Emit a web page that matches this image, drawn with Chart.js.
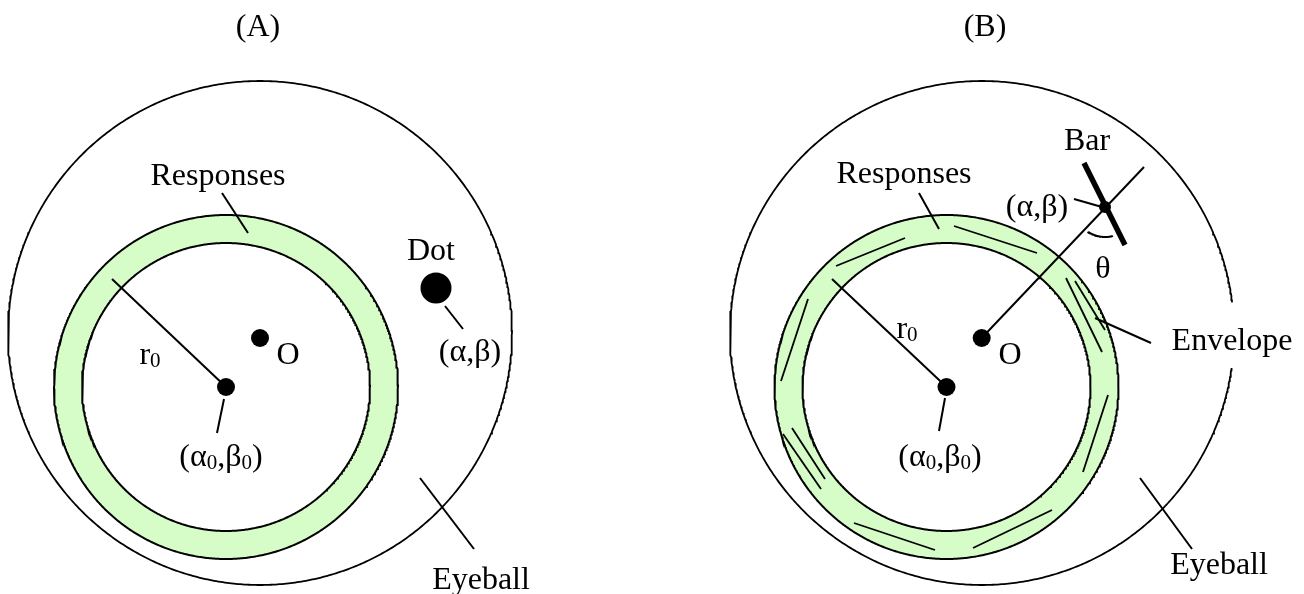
<!DOCTYPE html>
<html>
<head>
<meta charset="utf-8">
<script src="https://cdn.jsdelivr.net/npm/chart.js@4.4.0/dist/chart.umd.min.js"></script>
<style>
  html, body { margin: 0; padding: 0; background: #ffffff; }
  #wrap { width: 1304px; height: 594px; }
</style>
</head>
<body>
<div id="wrap"><canvas id="c" width="1304" height="594"></canvas></div>
<script>
// ---- diagram geometry (in diagram units; the y axis runs downward) ----

// eyeball outlines for panels A and B
const eyeballX = [260, 982];
const eyeballY = [333, 333];
const eyeballR = [252, 252];
// panel B outline is open on the right where the Envelope label sits (degrees, counter-clockwise from +x)
const eyeballArcFrom = [0, 7];
const eyeballArcTo = [360, 352];

// response rings: centre (alpha0, beta0), inner and outer radius
const ringX = [226, 946.5];
const ringY = [387, 387];
const ringInner = [144, 144];
const ringOuter = [172, 172];

// fixation point O and the stimulus positions
const fixationX = [260, 981.7];
const fixationY = [338, 338];
const dotX = [436];
const dotY = [288];
const barCentreX = [1105];
const barCentreY = [207];

// oriented bar in panel B (end points)
const barEnds = [[1084, 163], [1125, 245]];
// ray from O through the bar centre
const rayEnds = [[981.7, 338], [1144, 167]];
// angle theta between the ray and the bar (degrees, screen orientation)
const thetaArc = { r: 30, from: 75, to: 124 };

// radius r0 drawn in each ring (outer end)
const radiusEndX = [112, 832];
const radiusEndY = [279, 279];

// short oriented responses along the envelope in panel B
const envelopeBars = [
  [836, 266, 905, 238],
  [954, 226, 1037, 253],
  [1066, 278, 1102, 352],
  [1075, 281, 1105, 330],
  [1108, 395, 1083, 472],
  [1052, 510, 973, 548],
  [854, 523, 935, 550],
  [783, 434, 821, 489],
  [792, 428, 825, 479],
  [808, 299, 781, 381]
];

// leader lines from labels to the parts they name
const leaders = [
  [222, 193, 248, 233],   // A Responses
  [445, 306, 463, 329],   // A Dot
  [224, 399, 217, 433],   // A (alpha0, beta0)
  [420, 478, 474, 549],   // A Eyeball
  [919, 193, 939, 229],   // B Responses
  [1074, 199, 1102, 207], // B (alpha, beta)
  [945, 398, 939, 431],   // B (alpha0, beta0)
  [1095, 318, 1151, 343], // B Envelope
  [1140, 478, 1192, 549]  // B Eyeball
];

// text labels ('_' marks a one-character subscript)
const labelText = [
  '(A)', 'Responses', 'Dot', '(α,β)', 'r_0', 'O', '(α_0,β_0)', 'Eyeball',
  '(B)', 'Responses', 'Bar', '(α,β)', 'θ', 'r_0', 'O', 'Envelope', '(α_0,β_0)', 'Eyeball'
];
const labelX = [258, 218, 431, 470, 150, 288, 221, 481,
                985, 904, 1087, 1037, 1103, 907, 1010, 1232, 940, 1219];
const labelY = [25, 174, 249, 350, 353, 353, 455, 578,
                25, 172, 139, 205, 267, 327, 353, 339, 455, 563];

// ---- styles ----
const INK = '#000000';
const RING_FILL = '#d6fcc8';
const FONT = '"Liberation Serif", "Times New Roman", serif';
const FONT_SIZE = 32;

// ---- helpers ----
function arcPoints(cx, cy, r, fromDeg, toDeg) {
  const pts = [];
  const steps = Math.max(8, Math.round(Math.abs(toDeg - fromDeg) * 2));
  for (let i = 0; i <= steps; i++) {
    const a = (fromDeg + (toDeg - fromDeg) * i / steps) * Math.PI / 180;
    // counter-clockwise on screen: y grows downward
    pts.push({ x: cx + r * Math.cos(a), y: cy - r * Math.sin(a) });
  }
  return pts;
}
function screenArcPoints(cx, cy, r, fromDeg, toDeg) {
  const pts = [];
  const steps = 40;
  for (let i = 0; i <= steps; i++) {
    const a = (fromDeg + (toDeg - fromDeg) * i / steps) * Math.PI / 180;
    pts.push({ x: cx + r * Math.cos(a), y: cy + r * Math.sin(a) });
  }
  return pts;
}
function lineSet(points, width) {
  return {
    type: 'scatter', data: points, showLine: true, borderColor: INK,
    borderWidth: width, pointRadius: 0, fill: false, tension: 0,
    borderCapStyle: 'butt', order: 2, clip: false
  };
}

const datasets = [];

// eyeball outlines
for (let i = 0; i < eyeballX.length; i++) {
  datasets.push(lineSet(arcPoints(eyeballX[i], eyeballY[i], eyeballR[i], eyeballArcFrom[i], eyeballArcTo[i]), 1.8));
}
// ring edges
for (let i = 0; i < ringX.length; i++) {
  datasets.push(lineSet(arcPoints(ringX[i], ringY[i], ringInner[i], 0, 360), 2));
  datasets.push(lineSet(arcPoints(ringX[i], ringY[i], ringOuter[i], 0, 360), 2));
}
// radii r0
for (let i = 0; i < ringX.length; i++) {
  datasets.push(lineSet([{ x: radiusEndX[i], y: radiusEndY[i] }, { x: ringX[i], y: ringY[i] }], 2));
}
// envelope responses
envelopeBars.forEach(b => datasets.push(lineSet([{ x: b[0], y: b[1] }, { x: b[2], y: b[3] }], 1.8)));
// leaders
leaders.forEach(l => datasets.push(lineSet([{ x: l[0], y: l[1] }, { x: l[2], y: l[3] }], 2)));
// ray and bar
datasets.push(lineSet(rayEnds.map(p => ({ x: p[0], y: p[1] })), 2));
datasets.push(lineSet(barEnds.map(p => ({ x: p[0], y: p[1] })), 5.5));
datasets.push(lineSet(screenArcPoints(barCentreX[0], barCentreY[0], thetaArc.r, thetaArc.from, thetaArc.to), 2));

// dots
const dots = [];
const dotSizes = [];
for (let i = 0; i < ringX.length; i++) { dots.push({ x: ringX[i], y: ringY[i] }); dotSizes.push(9); }
for (let i = 0; i < fixationX.length; i++) { dots.push({ x: fixationX[i], y: fixationY[i] }); dotSizes.push(9); }
dots.push({ x: dotX[0], y: dotY[0] }); dotSizes.push(15.5);
dots.push({ x: barCentreX[0], y: barCentreY[0] }); dotSizes.push(6);
datasets.push({
  type: 'scatter', data: dots, pointRadius: dotSizes, pointBackgroundColor: INK,
  pointBorderWidth: 0, pointBorderColor: INK, showLine: false, order: 1, clip: false
});

// filled annulus between the ring edges, painted under the outlines
const ringFill = {
  id: 'ringFill',
  beforeDatasetsDraw(chart) {
    const { ctx, scales: { x, y } } = chart;
    ctx.save();
    ctx.fillStyle = RING_FILL;
    for (let i = 0; i < ringX.length; i++) {
      const cx = x.getPixelForValue(ringX[i]);
      const cy = y.getPixelForValue(ringY[i]);
      const ro = Math.abs(x.getPixelForValue(ringX[i] + ringOuter[i]) - cx);
      const ri = Math.abs(x.getPixelForValue(ringX[i] + ringInner[i]) - cx);
      ctx.beginPath();
      ctx.arc(cx, cy, ro, 0, Math.PI * 2, false);
      ctx.arc(cx, cy, ri, 0, Math.PI * 2, true);
      ctx.fill();
    }
    ctx.restore();
  }
};

// labels with optional one-character subscripts
function parseRich(s) {
  const parts = [];
  for (let i = 0; i < s.length; i++) {
    if (s[i] === '_' && i + 1 < s.length) { parts.push({ t: s[i + 1], sub: true }); i++; }
    else {
      const last = parts[parts.length - 1];
      if (last && !last.sub) last.t += s[i]; else parts.push({ t: s[i], sub: false });
    }
  }
  return parts;
}
const labels = {
  id: 'labels',
  afterDatasetsDraw(chart) {
    const { ctx, scales: { x, y } } = chart;
    ctx.save();
    ctx.fillStyle = INK;
    ctx.textBaseline = 'alphabetic';
    ctx.textAlign = 'left';
    const subSize = Math.round(FONT_SIZE * 0.66);
    for (let i = 0; i < labelText.length; i++) {
      const parts = parseRich(labelText[i]);
      let w = 0;
      parts.forEach(p => {
        ctx.font = (p.sub ? subSize : FONT_SIZE) + 'px ' + FONT;
        p.w = ctx.measureText(p.t).width;
        w += p.w;
      });
      let px = x.getPixelForValue(labelX[i]) - w / 2;
      // centre of the em box on the label position
      const base = y.getPixelForValue(labelY[i]) + FONT_SIZE * 0.34;
      parts.forEach(p => {
        ctx.font = (p.sub ? subSize : FONT_SIZE) + 'px ' + FONT;
        ctx.fillText(p.t, px, p.sub ? base + FONT_SIZE * 0.1 : base);
        px += p.w;
      });
    }
    ctx.restore();
  }
};

new Chart(document.getElementById('c'), {
  type: 'scatter',
  data: { datasets },
  options: {
    responsive: false,
    animation: false,
    events: [],
    layout: { padding: 0, autoPadding: false },
    plugins: { legend: { display: false }, tooltip: { enabled: false } },
    scales: {
      x: { type: 'linear', min: 0, max: 1304, display: false },
      y: { type: 'linear', min: 0, max: 594, reverse: true, display: false }
    }
  },
  plugins: [ringFill, labels]
});
</script>
</body>
</html>
